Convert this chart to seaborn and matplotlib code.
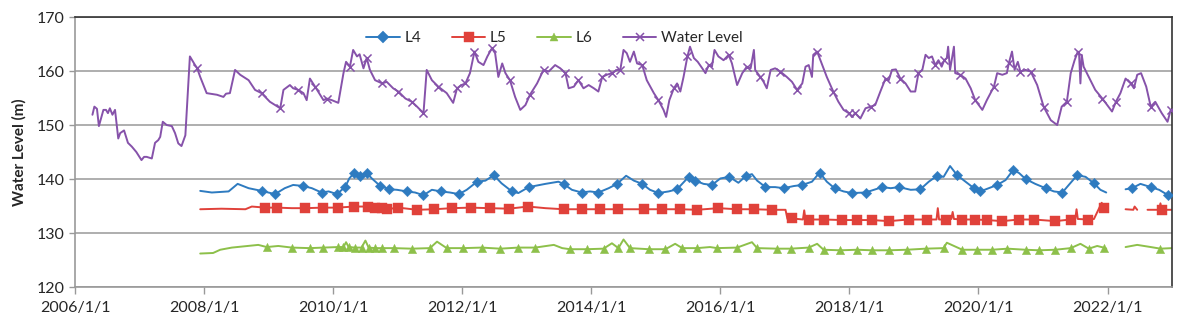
# water level chart: reservoir level vs. piezometers L4/L5/L6
import numpy as np
import pandas as pd
import matplotlib
matplotlib.use("Agg")
import matplotlib.pyplot as plt
from matplotlib.lines import Line2D
import seaborn as sns

# rows: (decimal year, level in m, 1 if a marker is drawn on that reading)
water = [
    (2006.27, 151.9, 0), (2006.30, 153.4, 0), (2006.34, 153.0, 0), (2006.37, 149.8, 0),
    (2006.44, 152.8, 0), (2006.48, 152.8, 0), (2006.51, 152.2, 0), (2006.54, 153.1, 0),
    (2006.58, 151.9, 0), (2006.62, 152.8, 0), (2006.67, 147.5, 0), (2006.70, 148.5, 0),
    (2006.76, 149.0, 0), (2006.82, 146.7, 0), (2006.88, 146.0, 0), (2006.95, 145.0, 0),
    (2007.03, 143.5, 0), (2007.07, 144.1, 0), (2007.11, 144.1, 0), (2007.19, 143.8, 0),
    (2007.24, 146.7, 0), (2007.29, 147.2, 0), (2007.32, 147.8, 0), (2007.36, 150.6, 0),
    (2007.42, 150.0, 0), (2007.50, 149.8, 0), (2007.55, 148.5, 0), (2007.60, 146.6, 0),
    (2007.65, 146.1, 0), (2007.71, 148.1, 0), (2007.78, 162.7, 0), (2007.86, 161.1, 0),
    (2007.89, 160.6, 1), (2007.94, 158.9, 0), (2008.04, 155.9, 0), (2008.20, 155.6, 0),
    (2008.30, 155.2, 0), (2008.34, 155.8, 0), (2008.40, 155.9, 0), (2008.48, 160.2, 0),
    (2008.56, 159.3, 0), (2008.69, 158.3, 0), (2008.79, 156.5, 0), (2008.89, 155.9, 1),
    (2009.02, 154.3, 0), (2009.18, 153.1, 1), (2009.23, 156.5, 0), (2009.33, 157.4, 0),
    (2009.38, 156.8, 0), (2009.46, 156.5, 1), (2009.54, 155.9, 0), (2009.59, 154.6, 0),
    (2009.64, 158.6, 0), (2009.72, 157.1, 1), (2009.85, 154.6, 0), (2009.90, 154.9, 1),
    (2009.98, 154.6, 0), (2010.08, 154.1, 0), (2010.16, 159.6, 0), (2010.20, 161.7, 0),
    (2010.26, 160.8, 1), (2010.31, 163.9, 0), (2010.37, 162.7, 0), (2010.41, 163.1, 0),
    (2010.47, 160.5, 0), (2010.52, 162.4, 1), (2010.57, 160.2, 0), (2010.65, 158.3, 0),
    (2010.76, 157.7, 1), (2010.83, 158.0, 0), (2010.93, 156.8, 0), (2011.01, 156.2, 1),
    (2011.12, 154.9, 0), (2011.22, 154.3, 1), (2011.30, 153.4, 0), (2011.40, 152.2, 1),
    (2011.45, 160.2, 0), (2011.53, 158.3, 0), (2011.63, 157.1, 1), (2011.76, 155.9, 0),
    (2011.86, 154.1, 0), (2011.92, 156.8, 1), (2011.99, 157.4, 0), (2012.05, 157.7, 1),
    (2012.12, 159.6, 0), (2012.19, 163.6, 1), (2012.25, 161.7, 0), (2012.33, 161.1, 0),
    (2012.39, 162.7, 0), (2012.46, 164.2, 1), (2012.51, 163.3, 0), (2012.56, 158.9, 0),
    (2012.62, 161.4, 0), (2012.67, 159.6, 0), (2012.74, 158.3, 1), (2012.82, 155.2, 0),
    (2012.90, 152.8, 0), (2012.98, 153.7, 0), (2013.05, 155.6, 1), (2013.16, 157.7, 0),
    (2013.26, 160.2, 1), (2013.34, 159.9, 0), (2013.44, 161.1, 0), (2013.52, 160.5, 0),
    (2013.60, 159.6, 1), (2013.65, 156.8, 0), (2013.73, 157.1, 0), (2013.80, 158.3, 1),
    (2013.88, 156.8, 0), (2013.96, 157.4, 0), (2014.04, 156.8, 0), (2014.11, 156.2, 0),
    (2014.17, 158.9, 1), (2014.24, 159.3, 0), (2014.32, 159.6, 1), (2014.40, 160.2, 0),
    (2014.45, 160.2, 1), (2014.50, 163.9, 0), (2014.55, 163.3, 0), (2014.60, 161.7, 0),
    (2014.66, 163.6, 0), (2014.71, 161.4, 0), (2014.79, 161.1, 1), (2014.86, 158.3, 0),
    (2014.97, 155.9, 0), (2015.04, 154.6, 1), (2015.12, 152.8, 0), (2015.16, 151.5, 0),
    (2015.21, 154.6, 0), (2015.28, 156.8, 1), (2015.33, 157.7, 0), (2015.38, 156.2, 0),
    (2015.43, 158.9, 0), (2015.49, 162.7, 1), (2015.53, 164.5, 0), (2015.59, 162.4, 0),
    (2015.65, 161.7, 0), (2015.72, 160.5, 0), (2015.77, 159.6, 0), (2015.82, 161.1, 1),
    (2015.87, 160.8, 0), (2015.91, 163.9, 0), (2015.97, 162.7, 0), (2016.05, 162.0, 0),
    (2016.13, 163.0, 1), (2016.18, 161.4, 0), (2016.26, 157.4, 0), (2016.34, 159.6, 0),
    (2016.41, 160.8, 1), (2016.47, 160.5, 0), (2016.52, 163.9, 0), (2016.54, 160.2, 0),
    (2016.62, 158.9, 1), (2016.67, 158.0, 0), (2016.72, 156.8, 0), (2016.78, 160.2, 0),
    (2016.85, 160.5, 0), (2016.93, 159.9, 1), (2017.03, 158.9, 0), (2017.11, 158.0, 0),
    (2017.19, 156.5, 1), (2017.27, 157.7, 0), (2017.32, 160.8, 0), (2017.37, 161.1, 0),
    (2017.42, 158.9, 0), (2017.44, 163.0, 0), (2017.50, 163.6, 1), (2017.57, 161.4, 0),
    (2017.65, 158.9, 0), (2017.75, 156.2, 1), (2017.83, 154.3, 0), (2017.91, 152.8, 0),
    (2017.99, 152.2, 1), (2018.04, 151.5, 0), (2018.09, 152.2, 1), (2018.17, 151.2, 0),
    (2018.25, 153.1, 0), (2018.33, 153.4, 1), (2018.40, 153.7, 0), (2018.48, 156.2, 0),
    (2018.56, 158.6, 1), (2018.61, 158.3, 0), (2018.66, 160.2, 0), (2018.72, 160.3, 0),
    (2018.79, 158.6, 1), (2018.87, 157.7, 0), (2018.95, 156.2, 0), (2019.02, 156.2, 0),
    (2019.07, 159.6, 1), (2019.13, 160.2, 0), (2019.18, 163.0, 0), (2019.23, 162.4, 0),
    (2019.28, 162.7, 0), (2019.33, 161.1, 1), (2019.38, 162.0, 0), (2019.43, 160.8, 0),
    (2019.47, 162.0, 1), (2019.51, 162.4, 0), (2019.53, 164.5, 0), (2019.56, 160.2, 0),
    (2019.62, 164.5, 0), (2019.64, 159.6, 0), (2019.72, 159.3, 1), (2019.80, 158.6, 0),
    (2019.88, 156.8, 0), (2019.95, 154.6, 1), (2020.06, 152.8, 0), (2020.13, 154.6, 0),
    (2020.24, 157.1, 1), (2020.29, 159.6, 0), (2020.37, 159.3, 0), (2020.44, 159.6, 0),
    (2020.47, 161.4, 1), (2020.52, 163.6, 0), (2020.56, 160.2, 0), (2020.61, 161.7, 0),
    (2020.65, 159.9, 1), (2020.73, 160.2, 0), (2020.81, 159.9, 1), (2020.91, 157.4, 0),
    (2021.01, 153.4, 1), (2021.12, 150.9, 0), (2021.22, 150.0, 0), (2021.29, 153.4, 0),
    (2021.37, 154.3, 1), (2021.43, 159.6, 0), (2021.49, 162.0, 0), (2021.54, 163.6, 1),
    (2021.56, 163.0, 0), (2021.58, 157.7, 0), (2021.60, 163.0, 0), (2021.63, 160.8, 0),
    (2021.71, 158.9, 0), (2021.81, 156.5, 0), (2021.92, 154.9, 1), (2022.07, 152.5, 0),
    (2022.13, 154.3, 1), (2022.20, 155.9, 0), (2022.28, 158.6, 0), (2022.36, 157.7, 1),
    (2022.41, 156.8, 0), (2022.46, 159.3, 0), (2022.52, 159.6, 0), (2022.60, 157.1, 0),
    (2022.67, 153.4, 1), (2022.74, 154.3, 0), (2022.84, 152.2, 0), (2022.93, 150.6, 0),
    (2022.98, 152.8, 1), (2023.00, 152.5, 0),
]

L4 = [
    (2007.94, 137.8, 0), (2008.12, 137.5, 0), (2008.38, 137.7, 0), (2008.52, 139.1, 0),
    (2008.69, 138.3, 0), (2008.89, 137.8, 1), (2009.10, 137.2, 1), (2009.25, 138.3, 0),
    (2009.38, 138.9, 0), (2009.54, 138.7, 1), (2009.67, 138.3, 0), (2009.82, 137.5, 1),
    (2009.93, 137.7, 0), (2010.06, 137.2, 1), (2010.19, 138.6, 1), (2010.25, 140.1, 0),
    (2010.33, 141.2, 1), (2010.42, 140.6, 1), (2010.52, 141.1, 1), (2010.60, 140.1, 0),
    (2010.73, 138.7, 1), (2010.87, 138.1, 1), (2010.99, 138.0, 0), (2011.14, 137.7, 1),
    (2011.27, 137.5, 0), (2011.40, 137.0, 1), (2011.53, 138.0, 0), (2011.67, 137.7, 1),
    (2011.81, 137.5, 0), (2011.95, 137.2, 1), (2012.07, 138.0, 0), (2012.23, 139.5, 1),
    (2012.36, 139.7, 0), (2012.49, 140.7, 1), (2012.61, 139.2, 0), (2012.77, 137.7, 1),
    (2012.87, 137.4, 0), (2013.03, 138.5, 1), (2013.29, 139.1, 0), (2013.49, 139.5, 0),
    (2013.57, 139.1, 1), (2013.70, 138.0, 0), (2013.85, 137.5, 1), (2013.98, 137.7, 0),
    (2014.11, 137.5, 1), (2014.27, 138.3, 0), (2014.40, 139.1, 1), (2014.54, 140.6, 0),
    (2014.66, 139.7, 0), (2014.79, 139.1, 1), (2014.91, 138.0, 0), (2015.04, 137.4, 1),
    (2015.20, 137.7, 0), (2015.33, 138.1, 1), (2015.51, 140.4, 1), (2015.61, 139.7, 1),
    (2015.74, 139.1, 0), (2015.87, 138.9, 1), (2016.00, 140.1, 0), (2016.14, 140.4, 1),
    (2016.28, 139.3, 0), (2016.40, 140.6, 1), (2016.49, 140.9, 0), (2016.57, 139.7, 0),
    (2016.70, 138.5, 1), (2016.85, 138.5, 0), (2016.98, 138.3, 1), (2017.14, 138.7, 0),
    (2017.27, 138.9, 1), (2017.42, 139.5, 0), (2017.54, 141.2, 1), (2017.65, 139.5, 0),
    (2017.77, 138.3, 1), (2017.91, 137.7, 0), (2018.04, 137.4, 1), (2018.25, 137.5, 1),
    (2018.38, 138.0, 0), (2018.51, 138.5, 1), (2018.64, 138.3, 0), (2018.77, 138.5, 1),
    (2018.95, 138.0, 0), (2019.10, 138.1, 1), (2019.23, 139.5, 0), (2019.36, 140.6, 1),
    (2019.46, 140.4, 0), (2019.56, 142.4, 0), (2019.67, 140.7, 1), (2019.80, 139.5, 0),
    (2019.93, 138.3, 1), (2020.03, 137.7, 1), (2020.16, 138.3, 0), (2020.29, 138.9, 1),
    (2020.42, 139.8, 0), (2020.54, 141.7, 1), (2020.63, 141.1, 0), (2020.73, 140.0, 1),
    (2020.88, 139.1, 0), (2021.04, 138.3, 1), (2021.17, 137.7, 0), (2021.30, 137.5, 1),
    (2021.40, 138.9, 0), (2021.53, 140.7, 1), (2021.66, 140.4, 0), (2021.79, 139.2, 1),
    (2021.89, 138.0, 0), (2021.98, 137.5, 0),
    (2022.10, np.nan, 0),
    (2022.28, 138.1, 0), (2022.38, 138.3, 1), (2022.51, 139.1, 0), (2022.67, 138.5, 1),
    (2022.80, 138.0, 0), (2022.94, 137.0, 1), (2023.00, 137.3, 0),
]

L5 = [
    (2007.94, 134.4, 0), (2008.27, 134.5, 0), (2008.64, 134.4, 0), (2008.74, 134.9, 0),
    (2008.95, 134.7, 1), (2009.13, 134.7, 1), (2009.36, 134.6, 0), (2009.57, 134.6, 1),
    (2009.84, 134.7, 1), (2010.07, 134.7, 1), (2010.32, 134.9, 1), (2010.54, 134.9, 1),
    (2010.65, 134.7, 1), (2010.75, 134.6, 1), (2010.83, 134.4, 1), (2011.01, 134.7, 1),
    (2011.30, 134.3, 1), (2011.57, 134.4, 1), (2011.84, 134.6, 1), (2012.13, 134.7, 1),
    (2012.43, 134.6, 1), (2012.72, 134.5, 1), (2013.02, 134.9, 1), (2013.29, 134.6, 0),
    (2013.57, 134.4, 1), (2013.85, 134.4, 1), (2014.14, 134.4, 1), (2014.42, 134.4, 1),
    (2014.81, 134.4, 1), (2015.10, 134.4, 1), (2015.38, 134.4, 1), (2015.64, 134.3, 1),
    (2015.97, 134.6, 1), (2016.26, 134.4, 1), (2016.52, 134.4, 1), (2016.80, 134.3, 1),
    (2017.01, 134.3, 0), (2017.04, 132.6, 0), (2017.11, 132.7, 1), (2017.28, 132.5, 0),
    (2017.30, 134.2, 0), (2017.32, 132.5, 0), (2017.37, 132.5, 1), (2017.61, 132.5, 1),
    (2017.89, 132.4, 1), (2018.12, 132.4, 1), (2018.35, 132.4, 1), (2018.61, 132.2, 1),
    (2018.92, 132.5, 1), (2019.20, 132.5, 1), (2019.35, 132.5, 0), (2019.37, 134.6, 0),
    (2019.39, 132.5, 0), (2019.49, 132.5, 1), (2019.58, 132.6, 0), (2019.60, 133.9, 0),
    (2019.62, 132.6, 0), (2019.75, 132.5, 1), (2019.95, 132.5, 1), (2020.13, 132.4, 1),
    (2020.37, 132.2, 1), (2020.63, 132.5, 1), (2020.86, 132.5, 1), (2021.19, 132.2, 1),
    (2021.43, 132.5, 1), (2021.50, 132.6, 0), (2021.52, 134.4, 0), (2021.54, 132.6, 0),
    (2021.69, 132.5, 1), (2021.79, 132.6, 0), (2021.87, 134.6, 0), (2021.91, 135.6, 0),
    (2021.94, 134.6, 1), (2021.98, 134.5, 0),
    (2022.10, np.nan, 0),
    (2022.28, 134.4, 0), (2022.40, 134.3, 0), (2022.42, 134.9, 0), (2022.46, 134.3, 0),
    (2022.54, np.nan, 0),
    (2022.62, 134.3, 0), (2022.80, 134.3, 0), (2022.82, 135.5, 0), (2022.84, 134.3, 1),
    (2023.00, 134.3, 0),
]

L6 = [
    (2007.94, 126.2, 0), (2008.14, 126.3, 0), (2008.25, 126.9, 0), (2008.43, 127.3, 0),
    (2008.84, 127.8, 0), (2008.97, 127.4, 1), (2009.15, 127.6, 0), (2009.36, 127.3, 1),
    (2009.64, 127.2, 1), (2009.85, 127.3, 1), (2010.08, 127.4, 1), (2010.16, 127.4, 1),
    (2010.20, 128.3, 0), (2010.24, 127.4, 1), (2010.34, 127.3, 1), (2010.44, 127.3, 1),
    (2010.50, 128.6, 0), (2010.55, 127.3, 1), (2010.65, 127.2, 1), (2010.75, 127.2, 1),
    (2010.94, 127.2, 1), (2011.22, 127.1, 1), (2011.50, 127.2, 1), (2011.61, 128.4, 0),
    (2011.76, 127.2, 1), (2012.02, 127.2, 1), (2012.30, 127.3, 1), (2012.59, 127.1, 1),
    (2012.87, 127.3, 1), (2013.13, 127.3, 1), (2013.42, 127.8, 0), (2013.55, 127.2, 0),
    (2013.67, 127.0, 1), (2013.93, 127.0, 1), (2014.19, 127.1, 1), (2014.32, 128.1, 0),
    (2014.42, 127.2, 1), (2014.50, 128.8, 0), (2014.60, 127.2, 1), (2014.89, 127.0, 1),
    (2015.15, 127.0, 1), (2015.30, 128.0, 0), (2015.41, 127.2, 1), (2015.64, 127.2, 1),
    (2015.84, 127.4, 0), (2015.95, 127.2, 1), (2016.26, 127.3, 1), (2016.49, 128.3, 0),
    (2016.57, 127.2, 1), (2016.88, 127.1, 1), (2017.09, 127.1, 1), (2017.37, 127.3, 1),
    (2017.50, 128.0, 0), (2017.60, 126.9, 1), (2017.86, 126.8, 1), (2018.12, 126.9, 1),
    (2018.35, 126.8, 1), (2018.61, 126.8, 1), (2018.89, 126.9, 1), (2019.18, 127.1, 1),
    (2019.46, 127.2, 1), (2019.51, 128.2, 0), (2019.75, 126.9, 1), (2019.98, 126.9, 1),
    (2020.21, 126.9, 1), (2020.45, 127.1, 1), (2020.73, 126.9, 1), (2020.94, 126.8, 1),
    (2021.19, 126.9, 1), (2021.43, 127.2, 1), (2021.58, 128.0, 0), (2021.71, 127.1, 1),
    (2021.84, 127.6, 0), (2021.94, 127.3, 1), (2021.98, 127.1, 0),
    (2022.10, np.nan, 0),
    (2022.28, 127.4, 0), (2022.46, 127.8, 0), (2022.67, 127.4, 0), (2022.82, 127.1, 1),
    (2023.00, 127.2, 0),
]

tick_years = [2006, 2008, 2010, 2012, 2014, 2016, 2018, 2020, 2022]
tick_labels = [f"{y}/1/1" for y in tick_years]


def frame(rows):
    df = pd.DataFrame(rows, columns=["t", "v", "m"])
    df["seg"] = df["v"].isna().cumsum()
    return df.dropna()


sns.set_style("white")
plt.rcParams["font.family"] = ["Lato", "DejaVu Sans"]

fig = plt.figure(figsize=(11.87, 3.27), dpi=100)
ax = fig.add_axes([0.0632, 0.1223, 0.9242, 0.8257])

series = [
    ("L4", L4, "#2E7BC0", "D", 28),
    ("L5", L5, "#E0413A", "s", 46),
    ("L6", L6, "#8DC04A", "^", 36),
    ("Water Level", water, "#8652AA", "x", 34),
]

handles = []
for name, rows, col, mk, size in series:
    df = frame(rows)
    sns.lineplot(data=df, x="t", y="v", units="seg", estimator=None,
                 color=col, lw=1.4, ax=ax, legend=False, sort=False)
    pts = df[df["m"] == 1]
    if mk == "x":
        sns.scatterplot(data=pts, x="t", y="v", marker="x", color=col, s=size,
                        linewidth=1.1, ax=ax, legend=False, zorder=3)
    else:
        sns.scatterplot(data=pts, x="t", y="v", marker=mk, color=col, s=size,
                        edgecolor=col, linewidth=0.3, ax=ax, legend=False, zorder=3)
    handles.append(Line2D([], [], color=col, lw=1.4, marker=mk,
                          markersize=6 if mk != "s" else 7, mew=1.1 if mk == "x" else 0.3))

ax.set_xlim(2006, 2023)
ax.set_ylim(120, 170)
ax.set_xticks(tick_years)
ax.set_xticklabels(tick_labels)
ax.set_yticks(range(120, 171, 10))
ax.yaxis.grid(True, color="#A8A8A8", lw=1.3)
ax.xaxis.grid(False)
ax.set_axisbelow(True)
ax.set_xlabel("")
ax.set_ylabel("Water Level (m)", fontsize=11, fontweight="bold", labelpad=7)
ax.tick_params(axis="both", labelsize=11.5, colors="#262626")
ax.tick_params(axis="x", length=5, width=1, color="#999999", bottom=True, pad=5)
ax.tick_params(axis="y", length=4, width=1, color="#999999", left=True)

for side in ["left", "bottom"]:
    ax.spines[side].set_color("#999999")
    ax.spines[side].set_linewidth(1.2)
for side in ["top", "right"]:
    ax.spines[side].set_color("#333333")
    ax.spines[side].set_linewidth(1.2)

ax.legend(handles, [s[0] for s in series], loc="center", bbox_to_anchor=(0.437, 0.922),
          ncol=4, frameon=False, fontsize=11, handlelength=2.2, columnspacing=2.0,
          handletextpad=0.3)

fig.savefig("out.png", dpi=100)
